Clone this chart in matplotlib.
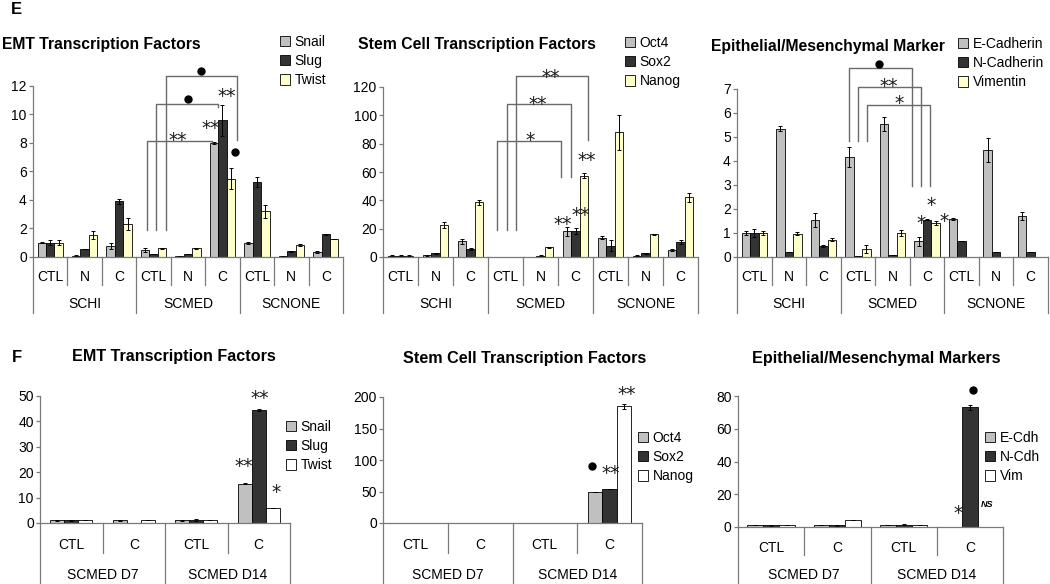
import matplotlib
matplotlib.use('Agg')
import matplotlib.pyplot as plt
import numpy as np

plt.rcParams['font.family'] = ['Liberation Sans', 'DejaVu Sans']

# ---------------- DATA ----------------
e_categories = ['CTL', 'N', 'C', 'CTL', 'N', 'C', 'CTL', 'N', 'C']
e_groups = ['SCHI', 'SCMED', 'SCNONE']

emt_labels = ['Snail', 'Slug', 'Twist']
emt_snail = [1.0, 0.1, 0.75, 0.5, 0.05, 8.0, 1.0, 0.05, 0.35]
emt_slug = [1.0, 0.55, 3.9, 0.2, 0.2, 9.6, 5.25, 0.4, 1.6]
emt_twist = [1.0, 1.55, 2.3, 0.6, 0.6, 5.5, 3.2, 0.85, 1.25]
emt_snail_err = [0.05, 0.03, 0.2, 0.12, 0.0, 0.05, 0.08, 0.0, 0.1]
emt_slug_err = [0.18, 0.02, 0.2, 0.02, 0.02, 1.1, 0.35, 0.03, 0.04]
emt_twist_err = [0.18, 0.3, 0.42, 0.03, 0.02, 0.72, 0.45, 0.08, 0.0]

stem_labels = ['Oct4', 'Sox2', 'Nanog']
stem_oct4 = [1.0, 1.2, 11.0, 0.3, 0.3, 18.0, 13.5, 0.8, 5.0]
stem_sox2 = [1.0, 2.5, 5.5, 0.3, 1.0, 18.5, 8.0, 2.5, 10.5]
stem_nanog = [1.0, 22.5, 38.5, 0.3, 7.0, 57.5, 88.0, 16.0, 42.0]
stem_oct4_err = [0.3, 0.3, 1.5, 0.0, 0.0, 3.0, 1.0, 0.3, 0.5]
stem_sox2_err = [0.2, 0.5, 0.5, 0.0, 0.2, 2.0, 4.0, 0.3, 1.5]
stem_nanog_err = [0.3, 2.0, 1.5, 0.0, 0.3, 1.5, 12.5, 0.5, 3.5]

epi_labels = ['E-Cadherin', 'N-Cadherin', 'Vimentin']
epi_ecad = [1.0, 5.35, 1.55, 4.15, 5.55, 0.65, 1.58, 4.45, 1.7]
epi_ncad = [1.0, 0.2, 0.45, 0.03, 0.1, 1.55, 0.65, 0.2, 0.22]
epi_vim = [1.0, 0.97, 0.72, 0.33, 1.0, 1.42, 0.0, 0.0, 0.0]
epi_ecad_err = [0.1, 0.12, 0.28, 0.42, 0.3, 0.2, 0.03, 0.5, 0.17]
epi_ncad_err = [0.15, 0.0, 0.04, 0.0, 0.0, 0.02, 0.0, 0.0, 0.0]
epi_vim_err = [0.08, 0.07, 0.07, 0.17, 0.13, 0.1, 0.0, 0.0, 0.0]

f_categories = ['CTL', 'C', 'CTL', 'C']
f_groups = ['SCMED D7', 'SCMED D14']

f_emt_snail = [1.0, 1.0, 1.0, 15.5]
f_emt_slug = [1.0, 0.0, 1.2, 44.5]
f_emt_twist = [1.0, 1.0, 1.0, 5.8]
f_emt_snail_err = [0.05, 0.05, 0.05, 0.3]
f_emt_slug_err = [0.1, 0.0, 0.3, 0.4]
f_emt_twist_err = [0.0, 0.0, 0.0, 0.0]

f_stem_oct4 = [0.5, 0.0, 0.5, 50.0]
f_stem_sox2 = [0.5, 0.0, 0.5, 54.0]
f_stem_nanog = [0.5, 0.0, 0.5, 185.0]
f_stem_oct4_err = [0.0, 0.0, 0.0, 0.0]
f_stem_sox2_err = [0.0, 0.0, 0.0, 0.0]
f_stem_nanog_err = [0.0, 0.0, 0.0, 4.0]

f_epi_labels = ['E-Cdh', 'N-Cdh', 'Vim']
f_epi_ecad = [1.0, 1.5, 1.0, 0.0]
f_epi_ncad = [1.0, 1.0, 1.3, 73.0]
f_epi_vim = [1.2, 4.3, 1.0, 0.0]
f_epi_ecad_err = [0.0, 0.0, 0.0, 0.0]
f_epi_ncad_err = [0.1, 0.1, 0.3, 1.5]
f_epi_vim_err = [0.2, 0.2, 0.0, 0.0]

# significance annotations: brackets (x_left, y_bottom, y_top, x_right, y_end)
emt_brackets = [(2.81, 1.9, 8.14, 4.70, 8.05), (3.07, 1.9, 10.74, 4.87, 10.5),
                (3.36, 1.9, 12.7, 5.42, 8.2)]
emt_marks = [('dot', 4.38, 13.05), ('dot', 4.0, 11.09), ('**', 3.71, 8.56),
             ('**', 4.67, 9.4), ('**', 5.13, 11.65), ('dot', 5.37, 7.4)]
stem_brackets = [(2.75, 19, 81.9, 4.58, 56.5), (3.04, 19, 108, 4.86, 56.5),
                 (3.29, 19, 127.8, 5.35, 82.6)]
stem_marks = [('*', 3.69, 86), ('**', 3.92, 112), ('**', 4.29, 131),
              ('**', 5.32, 72), ('**', 5.15, 33), ('**', 4.63, 26.8)]
epi_brackets = [(2.74, 4.83, 7.88, 4.56, 2.96), (3.0, 4.83, 7.08, 4.82, 2.96),
                (3.26, 4.83, 6.33, 5.08, 2.96)]
epi_marks = [('dot', 3.61, 8.04), ('**', 3.90, 7.33), ('*', 4.19, 6.63),
             ('*', 5.11, 2.38), ('*', 4.82, 1.63), ('*', 5.49, 1.71)]
f_emt_marks = [('**', 3.02, 51.2), ('**', 2.76, 24.4), ('*', 3.28, 14.2)]
f_stem_marks = [('dot', 2.73, 90), ('**', 3.01, 87), ('**', 3.27, 213)]
f_epi_marks = [('dot', 3.05, 83.7), ('*', 2.82, 11.6), ('NS', 3.26, 14)]

# ---------------- FIGURE ----------------
W, H = 1050, 584
fig = plt.figure(figsize=(W / 100, H / 100), dpi=100)

AXC = '#7a7a7a'
BRC = '#6a6a6a'
E_COLORS = ['#C0C0C0', '#333333', '#FFFFCC']
F_COLORS = ['#C0C0C0', '#333333', '#FFFFFF']


def ax_at(l, t, r, b):
    ax = fig.add_axes([l / W, 1 - b / H, (r - l) / W, (b - t) / H])
    ax._hpx = b - t
    return ax


def draw_panel(ax, vals, errs, labels, colors, width, ylim, yticks, cats, groups,
               inner_px, outer_px, cat_px, grp_px):
    n = len(cats)
    x = np.arange(n)
    offs = [-width, 0, width]
    for v, e, lab, col, off in zip(vals, errs, labels, colors, offs):
        ax.bar(x + off, v, width, color=col, edgecolor='black', linewidth=0.6,
               label=lab, yerr=e,
               error_kw=dict(ecolor='black', elinewidth=0.7, capsize=1.6, capthick=0.7),
               zorder=2)
    ax.set_xlim(-0.5, n - 0.5)
    ax.set_ylim(*ylim)
    ax.set_yticks(yticks)
    for s in ['top', 'right']:
        ax.spines[s].set_visible(False)
    for s in ['left', 'bottom']:
        ax.spines[s].set_color(AXC)
        ax.spines[s].set_linewidth(0.9)
    ax.tick_params(axis='x', length=0, labelbottom=False)
    ax.tick_params(axis='y', direction='out', length=3, width=0.9, color=AXC,
                   labelsize=10, pad=1.5, labelcolor='black')
    ax.patch.set_alpha(0)
    tr = ax.get_xaxis_transform()
    h = ax._hpx
    per = n // len(groups)
    for i in range(n + 1):
        depth = outer_px if i % per == 0 else inner_px
        ax.plot([i - 0.5, i - 0.5], [0, -depth / h], color=AXC, lw=0.9,
                transform=tr, clip_on=False)
    for i, c in enumerate(cats):
        ax.text(i, -cat_px / h, c, transform=tr, ha='center', va='center', fontsize=10)
    for g, name in enumerate(groups):
        ax.text(g * per + (per - 1) / 2, -grp_px / h, name, transform=tr,
                ha='center', va='center', fontsize=10)


def legend_at(ax, x, y):
    ax.legend(loc='center left', bbox_to_anchor=(x / W, 1 - y / H),
              bbox_transform=fig.transFigure, frameon=False, fontsize=10,
              handlelength=0.75, handleheight=0.75, handletextpad=0.3,
              labelspacing=0.38, borderpad=0, borderaxespad=0)


def brackets(ax, items):
    for xl, yb, yt, xr, ye in items:
        ax.plot([xl, xl, xr, xr], [yb, yt, yt, ye], color=BRC, lw=1.0,
                clip_on=False, zorder=3)


def marks(ax, items):
    for kind, x, y in items:
        if kind == 'dot':
            ax.plot([x], [y], 'o', color='black', ms=5, clip_on=False, zorder=4)
        elif kind == 'NS':
            ax.text(x, y, 'NS', ha='center', va='center', fontsize=6.5,
                    fontstyle='italic', fontweight='bold', clip_on=False)
        else:
            fs = 13.5
            ax.annotate(kind, (x, y), xytext=(0, -0.6 * fs),
                        textcoords='offset points', ha='center', va='baseline',
                        fontsize=fs, family='DejaVu Sans', color='#1a1a1a',
                        annotation_clip=False, zorder=4)


# ---- Panel E ----
axE1 = ax_at(33, 86, 343, 257)
draw_panel(axE1, [emt_snail, emt_slug, emt_twist],
           [emt_snail_err, emt_slug_err, emt_twist_err], emt_labels, E_COLORS,
           0.245, (0, 12), np.arange(0, 13, 2), e_categories, e_groups, 28, 56, 20, 47)
brackets(axE1, emt_brackets)
marks(axE1, emt_marks)
legend_at(axE1, 280, 61)

axE2 = ax_at(383, 87, 698, 257)
draw_panel(axE2, [stem_oct4, stem_sox2, stem_nanog],
           [stem_oct4_err, stem_sox2_err, stem_nanog_err], stem_labels, E_COLORS,
           0.245, (0, 120), np.arange(0, 121, 20), e_categories, e_groups, 28, 56, 20, 47)
brackets(axE2, stem_brackets)
marks(axE2, stem_marks)
legend_at(axE2, 625, 62)

axE3 = ax_at(737, 89, 1048, 257)
draw_panel(axE3, [epi_ecad, epi_ncad, epi_vim],
           [epi_ecad_err, epi_ncad_err, epi_vim_err], epi_labels, E_COLORS,
           0.245, (0, 7), np.arange(0, 8, 1), e_categories, e_groups, 28, 56, 20, 47)
brackets(axE3, epi_brackets)
marks(axE3, epi_marks)
legend_at(axE3, 958, 63)

# ---- Panel F ----
axF1 = ax_at(40, 396, 290, 523)
draw_panel(axF1, [f_emt_snail, f_emt_slug, f_emt_twist],
           [f_emt_snail_err, f_emt_slug_err, f_emt_twist_err], emt_labels, F_COLORS,
           0.224, (0, 50), np.arange(0, 51, 10), f_categories, f_groups, 30, 62, 22, 52)
marks(axF1, f_emt_marks)
legend_at(axF1, 286, 446)

axF2 = ax_at(383, 397, 642, 523)
draw_panel(axF2, [f_stem_oct4, f_stem_sox2, f_stem_nanog],
           [f_stem_oct4_err, f_stem_sox2_err, f_stem_nanog_err], stem_labels, F_COLORS,
           0.224, (0, 200), np.arange(0, 201, 50), f_categories, f_groups, 30, 62, 22, 52)
marks(axF2, f_stem_marks)
legend_at(axF2, 638, 457)

axF3 = ax_at(738, 396, 1003, 527)
draw_panel(axF3, [f_epi_ecad, f_epi_ncad, f_epi_vim],
           [f_epi_ecad_err, f_epi_ncad_err, f_epi_vim_err], f_epi_labels, F_COLORS,
           0.24, (0, 80), np.arange(0, 81, 20), f_categories, f_groups, 28, 60, 21, 48)
marks(axF3, f_epi_marks)
legend_at(axF3, 985, 457)

# ---- Titles ----
def ftext(x, y, s, **kw):
    fig.text(x / W, 1 - y / H, s, ha='center', va='center', **kw)

ftext(101, 44, 'EMT Transcription Factors', fontsize=11.3, fontweight='bold')
ftext(477, 44, 'Stem Cell Transcription Factors', fontsize=11.3, fontweight='bold')
ftext(828, 46, 'Epithelial/Mesenchymal Marker', fontsize=11.3, fontweight='bold')
ftext(174, 357, 'EMT Transcription Factors', fontsize=11.6, fontweight='bold')
ftext(525, 358, 'Stem Cell Transcription Factors', fontsize=11.6, fontweight='bold')
ftext(876, 358, 'Epithelial/Mesenchymal Markers', fontsize=11.6, fontweight='bold')
ftext(16, 10, 'E', fontsize=12, fontweight='bold')
ftext(17, 357, 'F', fontsize=12, fontweight='bold')

fig.savefig('out.png', dpi=100)
